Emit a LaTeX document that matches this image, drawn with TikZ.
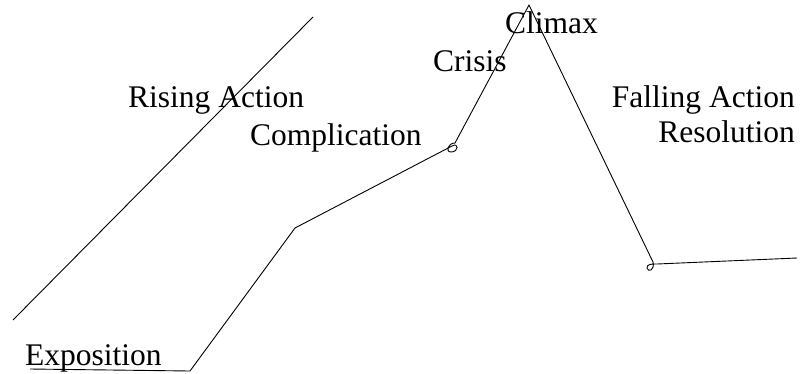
\documentclass[tikz,border=0pt]{standalone}
\usepackage{fontspec}
\setmainfont{Liberation Serif}
\begin{document}
\begin{tikzpicture}[x=1pt,y=-1pt,
  lbl/.style={anchor=base west,inner sep=0pt,font=\fontsize{31.5}{31.5}\selectfont},
  plotline/.style={draw=black,line width=0.9pt,line join=round}]
\useasboundingbox (0,0) rectangle (804,373);
% labels
\node[lbl] (climax) at (505,33) {Climax};
\node[lbl] (crisis) at (433,71) {Crisis};
\node[lbl] (rising) at (128,107) {Rising Action};
\node[lbl] (compl) at (250,145) {Complication};
\node[lbl,anchor=base east] (falling) at (795,107) {Falling Action};
\node[lbl,anchor=base east] (resol) at (795,142) {Resolution};
\node[lbl] (expo) at (25,365) {Exposition};
% coordinates
\coordinate (d1) at (13,320);
\coordinate (d2) at (313,17);
\coordinate (p0) at (30,369);
\coordinate (p1) at (190,371);
\coordinate (p2) at (295,228);
\coordinate (p3) at (452,146);
\coordinate (pk) at (529,5);
\coordinate (p4) at (653,262);
\coordinate (p5) at (797,258);
% diagonal
\draw[plotline] (d1) -- (d2);
% plot
\draw[plotline] (p0) -- (p1) -- (p2) -- (p3)
  .. controls (459,142) and (459,152) .. (451,152)
  .. controls (445,152) and (448,143) .. (455,143)
  -- (pk) -- (p4)
  .. controls (655,270) and (648,273) .. (647,268)
  .. controls (647,264) and (651,264) .. (657,264)
  -- (p5);
\end{tikzpicture}
\end{document}
